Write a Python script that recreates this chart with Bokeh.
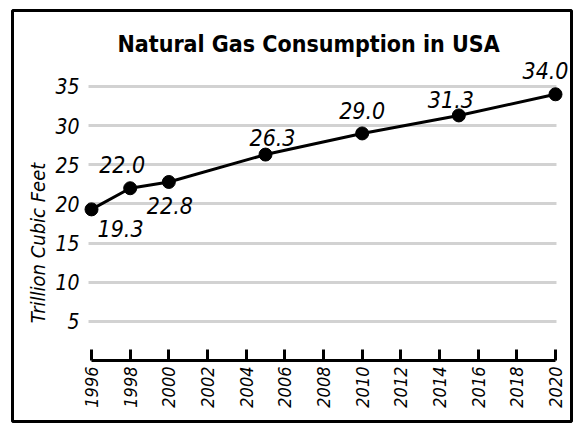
import math
from bokeh.plotting import figure
from bokeh.models import ColumnDataSource, FixedTicker, Range1d, Label, Grid
from bokeh.core.properties import value
from bokeh.embed import file_html
from bokeh.resources import INLINE

# ---- data ----
years = [1996, 1998, 2000, 2005, 2010, 2015, 2020]
consumption = [19.3, 22.0, 22.8, 26.3, 29.0, 31.3, 34.0]
value_labels = ["19.3", "22.0", "22.8", "26.3", "29.0", "31.3", "34.0"]
x_ticks = [1996, 1998, 2000, 2002, 2004, 2006, 2008, 2010, 2012, 2014, 2016, 2018, 2020]
y_ticks = [5, 10, 15, 20, 25, 30, 35]
title_text = "Natural Gas Consumption in USA"
y_title = "Trillion Cubic Feet"

# ---- label placement (screen px, +y = down) ----
label_dx = [29, -8, 1, 7, 0, -8, -10]
label_dy = [19, -24, 24, -17, -23, -16, -24]

FONT = "'DejaVu Sans Condensed', 'DejaVu Sans', sans-serif"

X0, X1 = 1991.913, 2020.828
Y0, Y1 = -7.79, 44.70
GRID_X = (1995.845, 2020.05)

p = figure(width=573, height=423, output_backend="svg", toolbar_location=None,
           x_range=Range1d(X0, X1), y_range=Range1d(Y0, Y1),
           min_border_left=12, min_border_right=2, min_border_top=10, min_border_bottom=2)

p.outline_line_color = "black"
p.outline_line_width = 3
p.background_fill_color = "white"
p.border_fill_color = "white"

# x axis inside the frame, at y = 0
xa = p.xaxis[0]
xa.fixed_location = 0
xa.bounds = (x_ticks[0], x_ticks[-1])
xa.ticker = FixedTicker(ticks=x_ticks)
xa.major_label_overrides = {t: str(t) for t in x_ticks}
xa.major_label_orientation = math.pi / 2
xa.major_label_text_font = FONT
xa.major_label_text_font_size = "18px"
xa.major_label_text_font_style = "italic"
xa.major_label_text_color = "black"
xa.major_label_standoff = 6
xa.axis_line_width = 3
xa.axis_line_color = "black"
xa.major_tick_in = 11
xa.major_tick_out = 0
xa.major_tick_line_width = 3
xa.major_tick_line_color = "black"
xa.minor_tick_line_color = None

# y axis inside the frame, at the left end of the grid
ya = p.yaxis[0]
ya.fixed_location = GRID_X[0]
ya.bounds = (-5, 35)
ya.ticker = FixedTicker(ticks=y_ticks)
ya.axis_line_color = None
ya.major_tick_line_color = None
ya.minor_tick_line_color = None
ya.major_label_standoff = 3
ya.major_label_text_font = FONT
ya.major_label_text_font_size = "21px"
ya.major_label_text_font_style = "italic"
ya.major_label_text_color = "black"
ya.axis_label = y_title
ya.axis_label_standoff = 2
ya.axis_label_text_font = FONT
ya.axis_label_text_font_size = "20px"
ya.axis_label_text_font_style = "italic"
ya.axis_label_text_color = "black"

p.xgrid.visible = False
yg = p.ygrid[0]
yg.ticker = FixedTicker(ticks=y_ticks)
yg.grid_line_color = "#d2d2d2"
yg.grid_line_width = 3
if "cross_bounds" in Grid.properties():
    yg.cross_bounds = GRID_X
else:
    yg.visible = False
    p.segment(x0=[GRID_X[0]] * len(y_ticks), x1=[GRID_X[1]] * len(y_ticks),
              y0=y_ticks, y1=y_ticks, line_color="#d2d2d2", line_width=3, level="underlay")

src = ColumnDataSource(dict(x=years, y=consumption, lab=value_labels,
                            dx=label_dx, dy=label_dy))

p.line("x", "y", source=src, line_color="black", line_width=3)
p.scatter("x", "y", source=src, size=13, fill_color="black", line_color="black")
p.text("x", "y", text="lab", source=src, x_offset="dx", y_offset="dy",
       text_font=value(FONT), text_font_size="23px", text_font_style="italic",
       text_align="center", text_baseline="middle", text_color="black")

# chart title, inside the bordered frame
p.add_layout(Label(x=2007.23, y=40.36, text=title_text,
                   text_align="center", text_baseline="alphabetic",
                   text_font=FONT, text_font_size="23px", text_font_style="bold",
                   text_color="black"))

open("out.html", "w").write(file_html(p, INLINE))
